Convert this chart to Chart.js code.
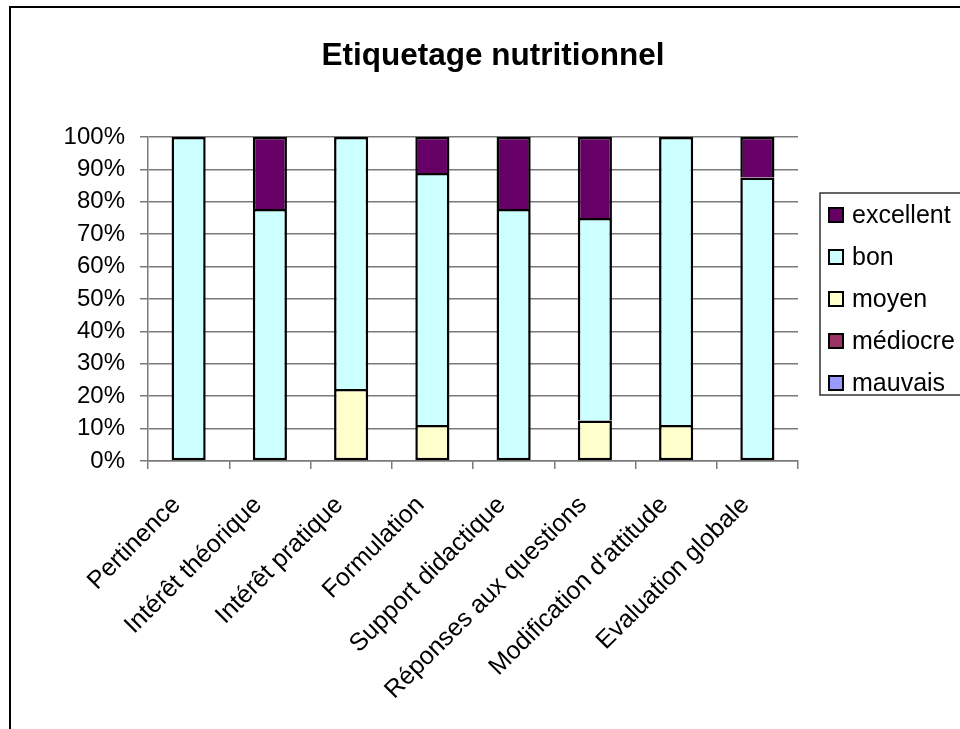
<!DOCTYPE html>
<html>
<head>
<meta charset="utf-8">
<title>Etiquetage nutritionnel</title>
<script src="https://cdn.jsdelivr.net/npm/chart.js@4"></script>
<style>
  html, body { margin: 0; padding: 0; background: #ffffff; }
  canvas { display: block; }
</style>
</head>
<body>
<canvas id="chart" width="960" height="729"></canvas>
<script>
// Survey categories (x axis)
const categories = [
  'Pertinence',
  'Intérêt théorique',
  'Intérêt pratique',
  'Formulation',
  'Support didactique',
  'Réponses aux questions',
  "Modification d'attitude",
  'Evaluation globale'
];

// Share of answers per rating, in percent
const mauvais   = [0, 0, 0, 0, 0, 0, 0, 0];
const mediocre  = [0, 0, 0, 0, 0, 0, 0, 0];
const moyen     = [0, 0, 22.2, 11.1, 0, 12.5, 11.1, 0];
const bon       = [100, 77.8, 77.8, 77.8, 77.8, 62.5, 88.9, 87.5];
const excellent = [0, 22.2, 0, 11.1, 22.2, 25, 0, 12.5];

// Value axis ticks
const yTickValues = [0, 10, 20, 30, 40, 50, 60, 70, 80, 90, 100];

const FONT = '"Liberation Sans", Arial, sans-serif';

// Stack order bottom to top
const series = [
  { label: 'mauvais',   data: mauvais,   color: '#9999FF' },
  { label: 'médiocre',  data: mediocre,  color: '#993366' },
  { label: 'moyen',     data: moyen,     color: '#FFFFCC' },
  { label: 'bon',       data: bon,       color: '#CCFFFF' },
  { label: 'excellent', data: excellent, color: '#660066' }
];

// The lowest visible segment of a column keeps its bottom edge
function skipBottom(ctx) {
  const i = ctx.dataIndex;
  for (let d = 0; d < ctx.datasetIndex; d++) {
    if (series[d].data[i] > 0) return 'start';
  }
  return false;
}

const framePlugin = {
  id: 'frame',
  beforeDraw(chart) {
    const c = chart.ctx;
    c.save();
    c.fillStyle = '#ffffff';
    c.fillRect(0, 0, chart.width, chart.height);
    c.strokeStyle = '#000000';
    c.lineWidth = 2;
    c.strokeRect(10, 7, 1000, 1000);
    c.restore();
  },
  afterDraw(chart) {
    const c = chart.ctx;
    c.save();
    // title
    c.fillStyle = '#000000';
    c.font = 'bold 31.5px ' + FONT;
    c.textAlign = 'center';
    c.textBaseline = 'middle';
    c.fillText('Etiquetage nutritionnel', 493, 56);

    // slanted category labels, placed from the category scale
    const xs = chart.scales.x;
    c.font = '25px ' + FONT;
    c.textAlign = 'right';
    c.textBaseline = 'middle';
    chart.data.labels.forEach((lab, i) => {
      const px = xs.getPixelForValue(i) - 12;
      const py = xs.top + 40;
      c.save();
      c.translate(px, py);
      c.rotate(-Math.PI / 4);
      c.fillText(lab, 0, 0);
      c.restore();
    });

    // legend box
    c.strokeStyle = '#333333';
    c.lineWidth = 1.5;
    c.strokeRect(820, 193, 150, 202);
    c.font = '25px ' + FONT;
    c.textAlign = 'left';
    const items = chart.data.datasets.slice().reverse();
    items.forEach((ds, k) => {
      const cy = 215 + k * 42;
      c.fillStyle = ds.backgroundColor;
      c.fillRect(829, cy - 7, 14, 14);
      c.strokeStyle = '#000000';
      c.lineWidth = 2;
      c.strokeRect(829, cy - 7, 14, 14);
      c.fillStyle = '#000000';
      c.fillText(ds.label, 852, cy + 1);
    });
    c.restore();
  }
};

new Chart(document.getElementById('chart'), {
  type: 'bar',
  data: {
    labels: categories,
    datasets: series.map(s => ({
      label: s.label,
      data: s.data,
      backgroundColor: s.color,
      borderColor: '#000000',
      borderWidth: 2.5,
      borderSkipped: skipBottom,
      barPercentage: 0.42,
      categoryPercentage: 1
    }))
  },
  options: {
    responsive: false,
    animation: false,
    devicePixelRatio: 1,
    layout: { padding: { left: 0, top: 137, right: 162, bottom: 0 } },
    plugins: {
      legend: { display: false },
      title: { display: false },
      tooltip: { enabled: false }
    },
    scales: {
      x: {
        stacked: true,
        afterFit(scale) { scale.height = 268; },
        grid: {
          offset: true,
          drawOnChartArea: false,
          drawTicks: true,
          tickLength: 8,
          color: '#7a7a7a',
          lineWidth: 1.5
        },
        border: { display: true, color: '#7a7a7a', width: 1.5 },
        ticks: { display: false, autoSkip: false }
      },
      y: {
        stacked: true,
        min: 0,
        max: 100,
        afterFit(scale) { scale.width = 148; },
        afterBuildTicks(scale) { scale.ticks = yTickValues.map(v => ({ value: v })); },
        grid: {
          color: '#7a7a7a',
          lineWidth: 1.5,
          tickLength: 8,
          drawTicks: true
        },
        border: { display: true, color: '#7a7a7a', width: 1.5 },
        ticks: {
          padding: 15,
          color: '#000000',
          font: { family: FONT, size: 24 },
          callback: v => v + '%'
        }
      }
    }
  },
  plugins: [framePlugin]
});
</script>
</body>
</html>
